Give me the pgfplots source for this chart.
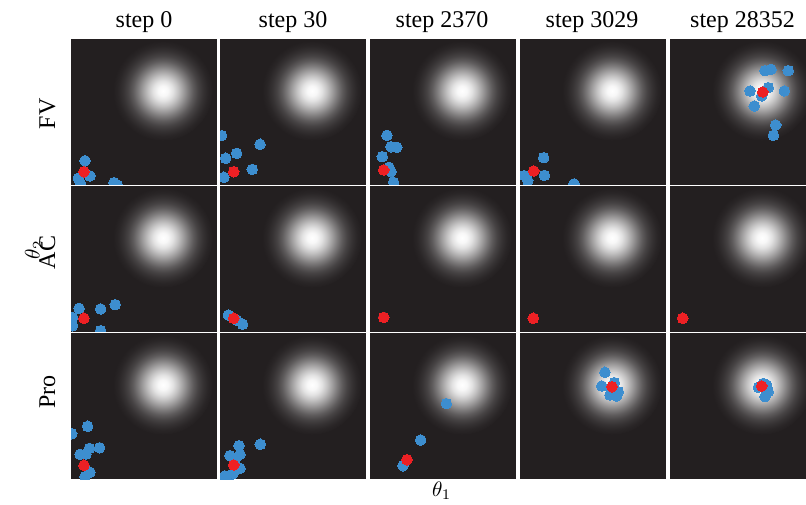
\documentclass[border=0pt]{standalone}
\usepackage{fontspec}
\setmainfont{Liberation Serif}
\usepackage{pgfplots}
\pgfplotsset{compat=1.18}
\definecolor{bg}{RGB}{35,31,32}
\definecolor{dotblue}{RGB}{61,142,207}
\definecolor{dotred}{RGB}{237,32,36}
% central 50bp square of the shading maps onto the circle's bounding box: 25bp = radius (50pt), sigma = 19pt, tapered tail
\pgfdeclareradialshading{gauss}{\pgfpoint{0bp}{0bp}}{%
color(0bp)=(white);
color(2.5bp)=(white!96.6!bg);
color(5bp)=(white!87.1!bg);
color(7.5bp)=(white!73.2!bg);
color(10bp)=(white!57.5!bg);
color(12.5bp)=(white!41.5!bg);
color(15bp)=(white!27!bg);
color(17.5bp)=(white!16!bg);
color(20bp)=(white!8.5!bg);
color(22.5bp)=(white!3!bg);
color(25bp)=(bg);
color(50bp)=(bg)}
\pgfdeclareplotmark{gauss}{\pgfpathcircle{\pgfpointorigin}{50pt}\pgfshadepath{gauss}{0}\pgfusepath{discard}}
\pgfplotsset{
  panel/.style={width=146pt,height=146pt,scale only axis,
    xmin=0,xmax=1,ymin=0,ymax=1,
    axis line style={draw=none},ticks=none,
    axis background/.style={fill=bg},
    clip marker paths=true,anchor=south west},
  lastpanel/.style={panel,width=136pt,xmax=0.93151},
  blob/.style={only marks,mark=gauss},
  bdots/.style={only marks,color=dotblue,mark=*,mark size=5.3pt,mark options={fill=dotblue,draw=dotblue,line width=0pt}},
  rdots/.style={only marks,color=dotred,mark=*,mark size=5.3pt,mark options={fill=dotred,draw=dotred,line width=0pt}},
}
\newcommand{\blobplot}{\addplot[blob] coordinates {(0.63,0.645)};}
\begin{document}
\begin{tikzpicture}
\useasboundingbox (0,0) rectangle (806pt,504pt);
% ---------------- Row 1: FV ----------------
\begin{axis}[panel,at={(71pt,319pt)}]
\blobplot
\addplot[bdots] coordinates {(0.096,0.166) (0.130,0.062) (0.050,0.046) (0.066,0.007) (0.295,0.016) (0.317,0.0)};
\addplot[rdots] coordinates {(0.089,0.091)};
\end{axis}
\begin{axis}[panel,at={(220pt,319pt)}]
\blobplot
\addplot[bdots] coordinates {(0.011,0.338) (0.274,0.279) (0.114,0.217) (0.039,0.183) (0.221,0.107) (0.027,0.053)};
\addplot[rdots] coordinates {(0.094,0.091)};
\end{axis}
\begin{axis}[panel,at={(370pt,319pt)}]
\blobplot
\addplot[bdots] coordinates {(0.116,0.340) (0.144,0.262) (0.183,0.258) (0.084,0.194) (0.130,0.121) (0.144,0.091) (0.162,0.018)};
\addplot[rdots] coordinates {(0.094,0.103)};
\end{axis}
\begin{axis}[panel,at={(520pt,319pt)}]
\blobplot
\addplot[bdots] coordinates {(0.162,0.187) (0.030,0.064) (0.053,0.030) (0.167,0.066) (0.370,0.007)};
\addplot[rdots] coordinates {(0.094,0.096)};
\end{axis}
\begin{axis}[lastpanel,at={(670pt,319pt)}]
\blobplot
\addplot[bdots] coordinates {(0.651,0.783) (0.692,0.792) (0.810,0.783) (0.548,0.644) (0.673,0.667) (0.628,0.610) (0.783,0.644) (0.577,0.541) (0.724,0.411) (0.708,0.340)};
\addplot[rdots] coordinates {(0.635,0.637)};
\end{axis}
% ---------------- Row 2: AC ----------------
\begin{axis}[panel,at={(71pt,172pt)}]
\blobplot
\addplot[bdots] coordinates {(0.055,0.162) (0.203,0.158) (0.303,0.187) (0.011,0.100) (0.011,0.043) (0.203,0.009) (0.073,-0.007)};
\addplot[rdots] coordinates {(0.089,0.094)};
\end{axis}
\begin{axis}[panel,at={(220pt,172pt)}]
\blobplot
\addplot[bdots] coordinates {(0.057,0.116) (0.114,0.082) (0.155,0.053)};
\addplot[rdots] coordinates {(0.094,0.094)};
\end{axis}
\begin{axis}[panel,at={(370pt,172pt)}]
\blobplot
\addplot[bdots] coordinates {(0.094,0.100)};
\addplot[rdots] coordinates {(0.094,0.100)};
\end{axis}
\begin{axis}[panel,at={(520pt,172pt)}]
\blobplot
\addplot[bdots] coordinates {(0.091,0.094)};
\addplot[rdots] coordinates {(0.091,0.094)};
\end{axis}
\begin{axis}[lastpanel,at={(670pt,172pt)}]
\blobplot
\addplot[bdots] coordinates {(0.087,0.094)};
\addplot[rdots] coordinates {(0.087,0.094)};
\end{axis}
% ---------------- Row 3: Pro ----------------
\begin{axis}[panel,at={(71pt,25pt)}]
\blobplot
\addplot[bdots] coordinates {(0.114,0.361) (0.005,0.310) (0.126,0.210) (0.196,0.214) (0.062,0.169) (0.103,0.171) (0.130,0.046) (0.096,0.016)};
\addplot[rdots] coordinates {(0.089,0.094)};
\end{axis}
\begin{axis}[panel,at={(220pt,25pt)}]
\blobplot
\addplot[bdots] coordinates {(0.276,0.238) (0.130,0.228) (0.068,0.160) (0.137,0.169) (0.103,0.130) (0.137,0.073) (0.034,0.021) (0.087,0.034)};
\addplot[rdots] coordinates {(0.094,0.096)};
\end{axis}
\begin{axis}[panel,at={(370pt,25pt)}]
\blobplot
\addplot[bdots] coordinates {(0.523,0.516) (0.347,0.267) (0.226,0.091)};
\addplot[rdots] coordinates {(0.253,0.132)};
\end{axis}
\begin{axis}[panel,at={(520pt,25pt)}]
\blobplot
\addplot[bdots] coordinates {(0.582,0.731) (0.560,0.637) (0.646,0.660) (0.673,0.598) (0.616,0.575) (0.662,0.568) (0.623,0.610)};
\addplot[rdots] coordinates {(0.630,0.632)};
\end{axis}
\begin{axis}[lastpanel,at={(670pt,25pt)}]
\blobplot
\addplot[bdots] coordinates {(0.605,0.628) (0.662,0.644) (0.673,0.598) (0.651,0.564) (0.639,0.655)};
\addplot[rdots] coordinates {(0.628,0.637)};
\end{axis}
% ---------------- Labels ----------------
\begin{scope}[every node/.style={font=\fontsize{24}{28}\selectfont,anchor=base,inner sep=0pt}]
\node at (144pt,476pt) {step 0};
\node at (293pt,476pt) {step 30};
\node at (442pt,476pt) {step 2370};
\node at (592pt,476pt) {step 3029};
\node at (742.5pt,476pt) {step 28352};
\node[rotate=90] at (55pt,390pt) {FV};
\node[rotate=90] at (55pt,251.5pt) {AC};
\node[rotate=90] at (55pt,112.3pt) {Pro};
\end{scope}
\node[anchor=base,inner sep=0pt,scale=2.1,transform shape,rotate=90] at (39.5pt,254pt) {$\theta_2$};
\node[anchor=base,inner sep=0pt,scale=2.1,transform shape] at (441.7pt,7.5pt) {$\theta_1$};
\end{tikzpicture}
\end{document}
